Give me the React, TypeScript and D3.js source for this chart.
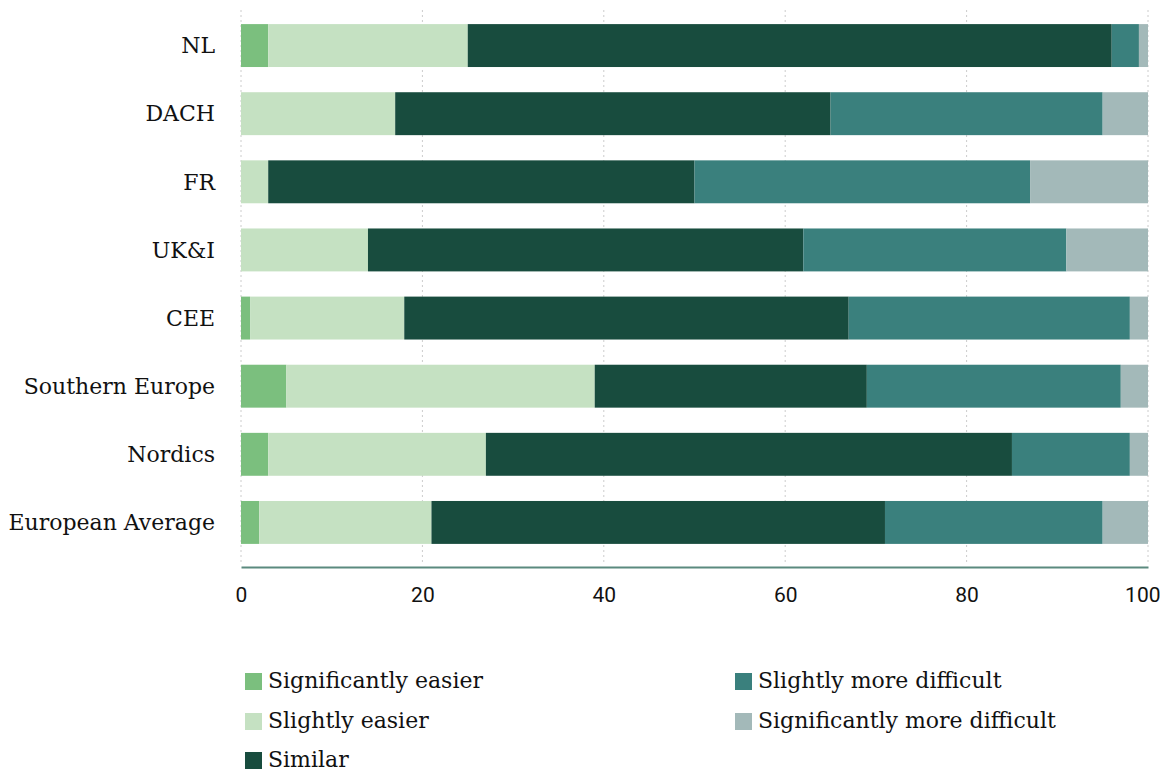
import React, { useEffect, useRef } from "react";
import * as d3 from "d3";

const regions = [
  "NL",
  "DACH",
  "FR",
  "UK&I",
  "CEE",
  "Southern Europe",
  "Nordics",
  "European Average",
];

const seriesNames = [
  "Significantly easier",
  "Slightly easier",
  "Similar",
  "Slightly more difficult",
  "Significantly more difficult",
];

const seriesColors = ["#7bbf7e", "#c5e1c2", "#184c3e", "#3a807d", "#a3b9b9"];

// values per region, in the order of seriesNames
const significantlyEasier = [3, 0, 0, 0, 1, 5, 3, 2];
const slightlyEasier = [22, 17, 3, 14, 17, 34, 24, 19];
const similar = [71, 48, 47, 48, 49, 30, 58, 50];
const slightlyMoreDifficult = [3, 30, 37, 29, 31, 28, 13, 24];
const significantlyMoreDifficult = [1, 5, 13, 9, 2, 3, 2, 5];

const xTicks = [0, 20, 40, 60, 80, 100];

const FONT = "'DejaVu Serif', serif";

const App = () => {
  const svgRef = useRef(null);

  useEffect(() => {
    const svg = d3.select(svgRef.current);
    svg.selectAll("*").remove();

    const width = 1163;
    const height = 774;

    const x = d3.scaleLinear().domain([0, 100]).range([241, 1148]);
    const y = d3
      .scaleBand()
      .domain(regions)
      .range([11.5, 556.5])
      .paddingInner(0.37)
      .paddingOuter(0.185);

    const columns = [
      significantlyEasier,
      slightlyEasier,
      similar,
      slightlyMoreDifficult,
      significantlyMoreDifficult,
    ];
    const rows = regions.map((r, i) => {
      const row: any = { region: r };
      seriesNames.forEach((s, j) => (row[s] = columns[j][i]));
      return row;
    });
    const stacked = d3.stack().keys(seriesNames)(rows);

    // grid lines
    svg
      .append("g")
      .selectAll("line")
      .data(xTicks)
      .join("line")
      .attr("x1", (d) => x(d))
      .attr("x2", (d) => x(d))
      .attr("y1", 10)
      .attr("y2", 562)
      .attr("stroke", "#cccccc")
      .attr("stroke-width", 1)
      .attr("stroke-dasharray", "2,3");

    // bars
    svg
      .append("g")
      .selectAll("g")
      .data(stacked)
      .join("g")
      .attr("fill", (d, i) => seriesColors[i])
      .selectAll("rect")
      .data((d) => d)
      .join("rect")
      .attr("x", (d) => x(d[0]))
      .attr("width", (d) => x(d[1]) - x(d[0]))
      .attr("y", (d: any) => y(d.data.region))
      .attr("height", y.bandwidth());

    // x axis
    const xAxis = svg
      .append("g")
      .attr("transform", `translate(0,567)`)
      .call(d3.axisBottom(x).tickValues(xTicks).tickSize(0).tickPadding(20));
    xAxis.select(".domain").attr("stroke", "#5b8a7f").attr("stroke-width", 2);
    xAxis
      .selectAll(".tick text")
      .attr("fill", "#111")
      .style("font-family", "Roboto, sans-serif")
      .style("font-size", "21px")
      // last label is pulled in so it stays inside the page
      .attr("text-anchor", (d) => (d === 100 ? "end" : "middle"))
      .attr("x", (d) => (d === 100 ? 12 : 0));

    // y labels
    svg
      .append("g")
      .selectAll("text")
      .data(regions)
      .join("text")
      .attr("x", 215)
      .attr("y", (d) => y(d) + y.bandwidth() / 2)
      .attr("dy", "0.35em")
      .attr("text-anchor", "end")
      .attr("fill", "#111")
      .style("font-family", FONT)
      .style("font-size", "22px")
      .text((d) => d);

    // legend
    const legendPos = [
      [245, 680],
      [245, 720],
      [245, 759],
      [735, 680],
      [735, 720],
    ];
    const legend = svg
      .append("g")
      .selectAll("g")
      .data(seriesNames)
      .join("g")
      .attr("transform", (d, i) => `translate(${legendPos[i][0]},${legendPos[i][1]})`);
    legend
      .append("rect")
      .attr("x", 0)
      .attr("y", -7)
      .attr("width", 17)
      .attr("height", 17)
      .attr("fill", (d, i) => seriesColors[i]);
    legend
      .append("text")
      .attr("x", 23)
      .attr("dy", "0.35em")
      .attr("fill", "#111")
      .style("font-family", FONT)
      .style("font-size", "22px")
      .text((d) => d);

    svg.attr("width", width).attr("height", height);
  }, []);

  return (
    <div style={{ position: "absolute", left: 0, top: 0 }}>
      <svg ref={svgRef} style={{ display: "block", background: "#fff" }} />
    </div>
  );
};

export default App;
